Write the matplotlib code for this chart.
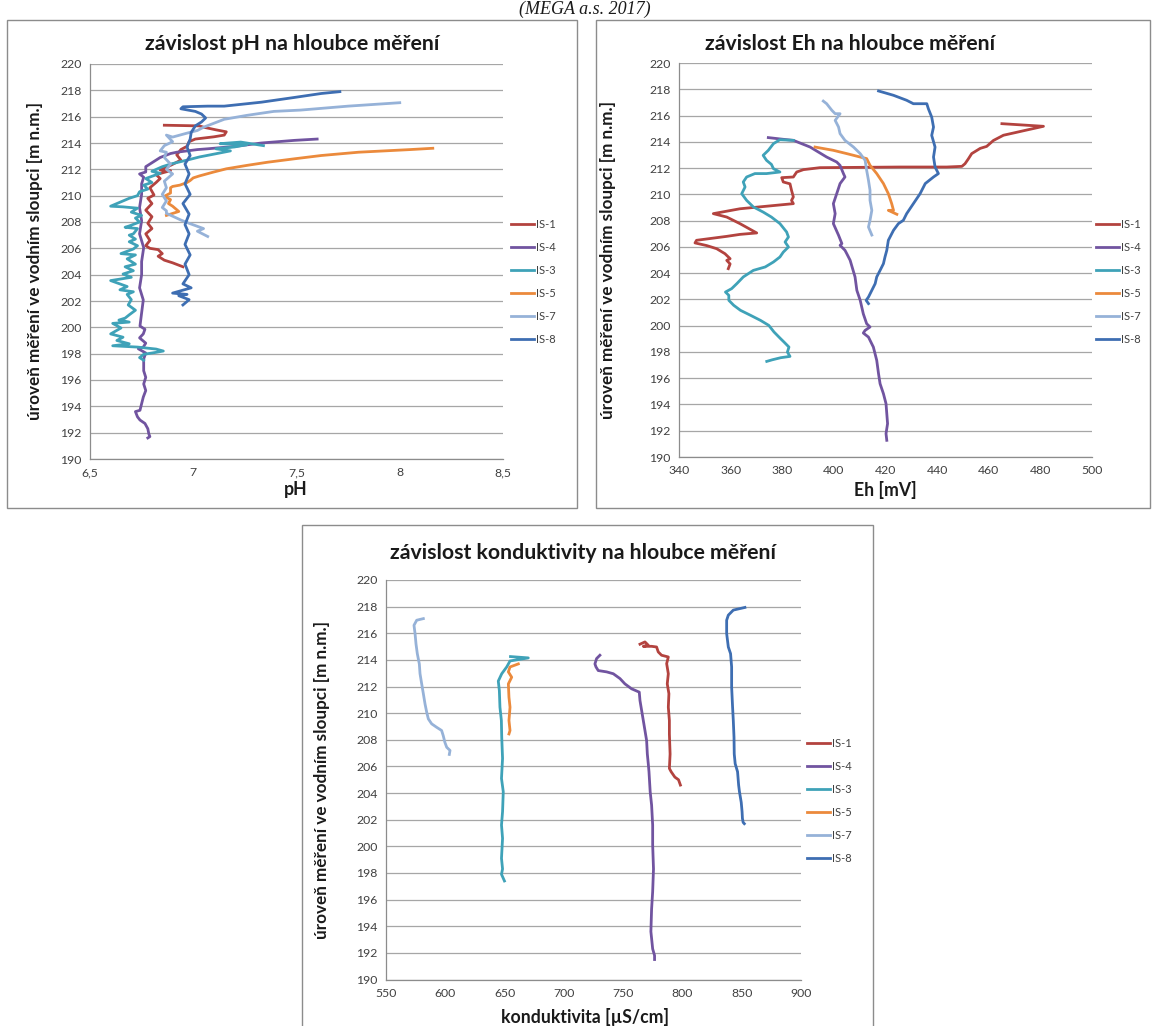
import matplotlib
matplotlib.use("Agg")
import matplotlib.pyplot as plt
from matplotlib.patches import Rectangle
from matplotlib.ticker import MultipleLocator, FuncFormatter

# ---- data: value, level [m n.m.] ----
SERIES = ["IS-1", "IS-4", "IS-3", "IS-5", "IS-7", "IS-8"]
COLORS = ["#B3433F", "#7154A0", "#3FA2B8", "#EB8A3C", "#96B2D8", "#3E6EB2"]

# pH
ph_is1_val = [6.86, 7.03, 7.05, 7.11, 7.16, 7.15, 7.10, 7.01, 6.98, 6.97, 6.94, 6.92, 6.94, 6.89, 6.84, 6.89,
              6.82, 6.84, 6.82, 6.79, 6.81, 6.78, 6.80, 6.77, 6.80, 6.78, 6.80, 6.77, 6.79, 6.77, 6.79, 6.83,
              6.85, 6.83, 6.86, 6.90, 6.95]
ph_is1_dep = [215.35, 215.3, 215.2, 215.0, 214.85, 214.6, 214.47, 214.3, 214.1, 213.75, 213.5, 213.1, 212.7,
              212.3, 211.95, 211.9, 211.6, 211.3, 211.0, 210.6, 210.05, 209.8, 209.4, 208.9, 208.4, 207.9,
              207.5, 207.1, 206.6, 206.2, 206.0, 205.9, 205.6, 205.4, 205.1, 204.9, 204.6]
ph_is4_val = [7.60, 7.49, 7.33, 7.20, 7.07, 7.02, 6.92, 6.89, 6.84, 6.79, 6.77, 6.77, 6.74, 6.76, 6.75, 6.75,
              6.74, 6.75, 6.74, 6.76, 6.75, 6.75, 6.74, 6.758, 6.75, 6.742, 6.766, 6.758, 6.74, 6.77, 6.758,
              6.734, 6.77, 6.76, 6.76, 6.76, 6.77, 6.76, 6.77, 6.758, 6.75, 6.742, 6.72, 6.73, 6.742, 6.766,
              6.78, 6.785, 6.79, 6.78]
ph_is4_dep = [214.3, 214.2, 214.0, 213.74, 213.56, 213.5, 213.3, 213.2, 212.9, 212.4, 212.2, 211.8, 211.65,
              211.4, 210.9, 210.1, 209.1, 208.1, 207.1, 206.05, 205.0, 204.0, 203.0, 202.08, 201.1, 200.1,
              199.85, 199.5, 199.2, 198.8, 198.5, 198.37, 198.05, 197.6, 197.2, 196.7, 196.2, 195.7, 195.2,
              194.7, 194.2, 193.7, 193.6, 193.2, 192.96, 192.7, 192.3, 191.9, 191.7, 191.6]
ph_is3_val = [7.34, 7.23, 7.13, 7.26, 7.20, 7.11, 7.18, 7.03, 6.97, 6.89, 6.85, 6.80, 6.84, 6.77, 6.80, 6.76,
              6.78, 6.74, 6.73, 6.69, 6.60, 6.66, 6.73, 6.70, 6.75, 6.72, 6.74, 6.69, 6.67, 6.73, 6.71, 6.69,
              6.72, 6.69, 6.73, 6.71, 6.65, 6.72, 6.68, 6.72, 6.67, 6.71, 6.66, 6.70, 6.60, 6.68, 6.645, 6.71,
              6.68, 6.70, 6.685, 6.72, 6.69, 6.67, 6.64, 6.69, 6.61, 6.65, 6.60, 6.66, 6.63, 6.69, 6.61, 6.73,
              6.82, 6.855, 6.82, 6.76, 6.74, 6.76]
ph_is3_dep = [213.8, 214.07, 213.95, 213.87, 213.7, 213.56, 213.4, 212.94, 212.7, 212.4, 212.2, 211.85, 211.7,
              211.3, 211.0, 210.8, 210.5, 210.3, 210.0, 209.8, 209.2, 209.15, 209.05, 208.75, 208.5, 208.3,
              208.0, 207.7, 207.6, 207.5, 207.1, 207.0, 206.7, 206.5, 206.2, 205.95, 205.6, 205.5, 205.2,
              204.8, 204.6, 204.3, 204.05, 203.8, 203.55, 203.1, 202.85, 202.7, 202.5, 202.1, 201.7, 201.3,
              200.95, 200.7, 200.55, 200.4, 200.3, 199.95, 199.5, 199.25, 199.0, 198.75, 198.6, 198.5,
              198.35, 198.2, 198.1, 197.95, 197.7, 197.5]
ph_is5_val = [8.16, 8.05, 7.80, 7.62, 7.49, 7.36, 7.26, 7.16, 7.10, 7.03, 7.00, 6.985, 6.97, 6.935, 6.90, 6.89,
              6.89, 6.86, 6.89, 6.88, 6.90, 6.93, 6.89, 6.87]
ph_is5_dep = [213.6, 213.5, 213.3, 213.05, 212.8, 212.54, 212.3, 212.04, 211.8, 211.5, 211.35, 211.15, 211.0,
              210.8, 210.7, 210.6, 210.2, 209.95, 209.7, 209.4, 209.2, 208.8, 208.6, 208.5]
ph_is7_val = [8.00, 7.75, 7.52, 7.39, 7.26, 7.15, 7.10, 7.05, 7.02, 6.97, 6.90, 6.87, 6.90, 6.86, 6.84, 6.87,
              6.86, 6.89, 6.87, 6.90, 6.86, 6.87, 6.85, 6.87, 6.85, 6.87, 6.87, 6.94, 6.98, 7.05, 7.02, 7.07]
ph_is7_dep = [217.06, 216.8, 216.5, 216.4, 216.1, 215.8, 215.5, 215.2, 214.95, 214.75, 214.45, 214.6, 214.1,
              213.8, 213.4, 213.3, 212.9, 212.4, 212.0, 211.65, 211.1, 210.6, 210.1, 209.6, 209.1, 208.85,
              208.66, 208.15, 207.9, 207.5, 207.3, 206.9]
ph_is8_val = [7.71, 7.62, 7.49, 7.33, 7.15, 7.07, 6.95, 6.94, 7.01, 7.04, 7.06, 7.04, 7.01, 6.99, 6.985, 6.97,
              6.985, 6.96, 6.98, 6.96, 6.985, 6.95, 6.98, 6.96, 6.98, 6.96, 6.985, 6.96, 6.98, 6.95, 6.99,
              6.90, 6.97, 6.93, 6.98, 6.95]
ph_is8_dep = [217.9, 217.76, 217.46, 217.1, 216.8, 216.8, 216.75, 216.6, 216.4, 216.2, 215.9, 215.6, 215.3,
              214.8, 214.3, 213.7, 213.05, 212.4, 211.65, 210.9, 210.1, 209.4, 208.6, 207.8, 207.1, 206.3,
              205.5, 204.8, 204.0, 203.3, 203.0, 202.6, 202.5, 202.4, 202.1, 201.7]

# Eh [mV]
eh_is1_val = [465.1, 481.2, 474.1, 469.6, 465.7, 461.8, 459.2, 456.7, 453.4, 452.1, 450.8, 449.6, 443.7, 425.7,
              394.6, 388.2, 385.6, 384.3, 379.8, 380.4, 383.0, 383.6, 384.3, 383.6, 384.3, 363.6, 353.3, 358.5,
              363.6, 370.1, 363.6, 358.5, 350.7, 346.8, 346.2, 350.7, 354.6, 357.8, 359.8, 358.5, 359.8, 359.1]
eh_is1_dep = [215.38, 215.18, 214.87, 214.67, 214.5, 214.1, 213.65, 213.5, 213.1, 212.7, 212.33, 212.13, 212.08,
              212.08, 212.03, 211.88, 211.7, 211.32, 211.27, 210.94, 210.8, 210.3, 209.8, 209.54, 209.29,
              208.9, 208.53, 208.27, 207.77, 207.06, 206.95, 206.8, 206.6, 206.5, 206.3, 206.1, 205.86,
              205.48, 205.1, 204.97, 204.7, 204.34]
eh_is4_val = [374.6, 380.4, 384.3, 390.8, 397.2, 401.1, 402.4, 403.7, 404.3, 402.4, 401.1, 399.8, 400.5, 399.8,
              401.8, 403.1, 402.4, 404.3, 405.0, 406.3, 408.2, 408.9, 410.2, 411.4, 412.7, 414.0, 412.1, 411.4,
              413.4, 415.3, 416.6, 417.3, 417.9, 419.2, 420.2, 420.5, 420.8, 420.2, 420.5]
eh_is4_dep = [214.32, 214.19, 214.11, 213.6, 212.84, 212.46, 212.2, 211.58, 211.32, 210.82, 210.05, 209.29,
              208.53, 207.77, 206.89, 206.25, 206.12, 205.74, 205.48, 204.98, 203.71, 202.69, 201.93, 200.9,
              200.15, 199.9, 199.64, 199.44, 199.13, 198.37, 197.36, 196.34, 195.58, 194.82, 194.06, 193.3,
              192.54, 191.78, 191.27]
eh_is3_val = [384.3, 379.1, 376.6, 374.6, 372.6, 373.9, 375.8, 376.6, 379.1, 373.9, 369.4, 366.2, 364.9, 365.6,
              364.3, 366.2, 368.8, 372.6, 375.8, 379.1, 381.7, 382.4, 381.1, 382.4, 380.4, 379.1, 376.6, 373.4,
              368.8, 364.9, 362.4, 360.4, 358.0, 359.3, 359.3, 361.2, 363.8, 367.7, 371.6, 374.8, 376.8, 378.1,
              379.4, 380.7, 382.6, 382.0, 383.0, 379.4, 376.1, 374.0]
eh_is3_dep = [214.11, 214.16, 213.86, 213.35, 212.97, 212.59, 212.28, 211.95, 211.7, 211.58, 211.58, 211.32,
              210.94, 210.56, 210.05, 209.54, 209.04, 208.65, 208.27, 207.77, 207.13, 206.75, 206.37, 205.99,
              205.6, 205.23, 204.85, 204.47, 204.21, 203.71, 203.2, 202.82, 202.56, 202.31, 201.93, 201.55,
              201.17, 200.79, 200.4, 200.02, 199.52, 199.26, 199.0, 198.75, 198.37, 197.99, 197.66, 197.56,
              197.4, 197.28]
eh_is5_val = [392.7, 399.8, 405.0, 410.2, 412.7, 414.0, 416.6, 419.2, 421.1, 422.4, 423.1, 421.1, 424.4]
eh_is5_dep = [213.6, 213.35, 213.1, 212.84, 212.72, 212.21, 211.58, 210.82, 210.05, 209.29, 208.78, 208.78, 208.48]
eh_is7_val = [395.9, 397.2, 399.2, 400.5, 402.4, 400.5, 401.8, 402.4, 404.3, 407.6, 410.2, 412.1, 412.7, 413.4,
              414.0, 414.0, 414.7, 414.0, 413.4, 414.7]
eh_is7_dep = [217.1, 216.9, 216.4, 216.14, 216.14, 215.63, 215.13, 214.62, 214.11, 213.6, 213.1, 212.59, 211.83,
              211.07, 210.31, 209.55, 208.78, 208.02, 207.51, 206.9]
eh_is8_val = [417.3, 423.1, 428.2, 430.8, 436.0, 436.6, 437.9, 438.6, 437.9, 439.2, 438.6, 439.2, 440.5, 438.6,
              435.4, 433.4, 430.8, 428.2, 426.9, 425.0, 423.1, 421.1, 420.5, 419.8, 419.2, 417.9, 416.6, 416.0,
              414.7, 413.4, 412.5, 413.4]
eh_is8_dep = [217.87, 217.54, 217.16, 216.9, 216.9, 216.52, 215.88, 215.12, 214.49, 213.6, 212.84, 212.08,
              211.58, 211.32, 210.82, 210.05, 209.29, 208.53, 208.02, 207.77, 207.26, 206.5, 205.74, 205.23,
              204.72, 204.21, 203.71, 203.2, 202.69, 202.18, 201.93, 201.68]

# konduktivita [uS/cm]
ec_is1_val = [764.2, 768.4, 771.2, 767.0, 774.0, 778.2, 779.6, 782.4, 788.1, 786.7, 788.1, 787.2, 788.6, 788.1,
              789.0, 789.0, 789.6, 789.0, 790.5, 793.6, 796.7, 798.3]
ec_is1_dep = [215.18, 215.35, 215.1, 215.02, 215.02, 214.97, 214.6, 214.35, 214.22, 213.72, 212.96, 212.2,
              211.46, 210.45, 209.45, 208.44, 206.93, 205.85, 205.6, 205.2, 205.0, 204.6]
ec_is4_val = [730.4, 727.6, 726.2, 727.1, 729.0, 736.1, 741.7, 747.3, 751.5, 757.1, 763.6, 764.2, 765.6, 767.0,
              768.4, 769.8, 770.4, 771.2, 771.8, 772.8, 774.0, 774.9, 774.9, 775.6, 774.9, 774.0, 773.4, 774.9,
              776.5, 776.5]
ec_is4_dep = [214.35, 214.1, 213.7, 213.47, 213.2, 213.1, 212.96, 212.6, 212.2, 211.83, 211.58, 210.95, 210.2,
              209.45, 208.7, 207.94, 206.93, 206.2, 205.6, 204.1, 203.1, 201.6, 200.1, 198.3, 196.6, 195.3,
              193.6, 192.3, 191.8, 191.5]
ec_is3_val = [655.0, 670.0, 654.6, 651.8, 647.6, 644.7, 645.6, 646.1, 647.3, 647.6, 648.3, 647.4, 648.9, 648.3,
              647.4, 648.3, 647.4, 648.3, 647.4, 648.9, 649.9]
ec_is3_dep = [214.25, 214.15, 213.92, 213.47, 212.96, 212.41, 211.7, 210.45, 209.45, 208.2, 206.6, 205.1, 204.1,
              202.6, 201.6, 200.6, 199.1, 198.3, 197.9, 197.6, 197.4]
ec_is5_val = [661.6, 654.6, 653.2, 656.0, 653.2, 653.7, 654.6, 653.7, 654.6, 653.7]
ec_is5_dep = [213.7, 213.47, 213.1, 212.7, 212.2, 211.2, 210.45, 209.45, 208.7, 208.44]
ec_is7_val = [581.5, 575.9, 573.6, 574.5, 575.3, 576.4, 578.1, 578.7, 580.1, 581.5, 582.9, 584.3, 585.7, 588.5,
              592.7, 596.9, 598.3, 599.7, 601.2, 604.0, 603.4]
ec_is7_dep = [217.1, 216.98, 216.6, 215.98, 215.2, 214.47, 213.7, 212.96, 212.2, 211.46, 210.7, 210.08, 209.57,
              209.2, 208.94, 208.7, 208.3, 207.8, 207.44, 207.2, 206.9]
ec_is8_val = [852.7, 842.9, 838.7, 837.3, 837.3, 838.7, 840.6, 841.5, 841.5, 842.3, 842.9, 843.5, 843.7, 844.5,
              846.5, 847.4, 848.1, 849.6, 850.3, 850.6, 851.2, 852.2]
ec_is8_dep = [217.94, 217.74, 217.36, 216.98, 215.98, 214.97, 214.47, 213.47, 211.96, 210.45, 209.45, 208.19,
              206.93, 206.2, 205.6, 204.6, 204.1, 203.3, 202.6, 202.1, 201.8, 201.7]

PH = [(ph_is1_val, ph_is1_dep), (ph_is4_val, ph_is4_dep), (ph_is3_val, ph_is3_dep),
      (ph_is5_val, ph_is5_dep), (ph_is7_val, ph_is7_dep), (ph_is8_val, ph_is8_dep)]
EH = [(eh_is1_val, eh_is1_dep), (eh_is4_val, eh_is4_dep), (eh_is3_val, eh_is3_dep),
      (eh_is5_val, eh_is5_dep), (eh_is7_val, eh_is7_dep), (eh_is8_val, eh_is8_dep)]
EC = [(ec_is1_val, ec_is1_dep), (ec_is4_val, ec_is4_dep), (ec_is3_val, ec_is3_dep),
      (ec_is5_val, ec_is5_dep), (ec_is7_val, ec_is7_dep), (ec_is8_val, ec_is8_dep)]

YLABEL = "úroveň měření ve vodním sloupci [m n.m.]"

# ---- layout (pixels of the 1157x1026 picture) ----
W, H = 1157, 1026
FONT = ["Lato", "DejaVu Sans"]
plt.rcParams["font.family"] = FONT

fig = plt.figure(figsize=(W / 100, H / 100), dpi=100)


def fx(px):
    return px / W


def fy(py):
    return 1 - py / H


def comma(v, pos):
    return ("%g" % v).replace(".", ",")


def panel(box, ax_box, data, xlim, xstep, title, title_xy, xlabel, xlabel_xy, ylabel_x, leg_xy):
    x0, y0, x1, y1 = box
    fig.patches.append(Rectangle((fx(x0), fy(y1)), fx(x1 - x0), (y1 - y0) / H, transform=fig.transFigure,
                                 fill=False, edgecolor="#8C8C8C", linewidth=1.0, zorder=0))
    l, t, r, b = ax_box
    ax = fig.add_axes([fx(l), fy(b), fx(r - l), (b - t) / H])
    for (vals, deps), name, col in zip(data, SERIES, COLORS):
        ax.plot(vals, deps, color=col, linewidth=2.0, label=name, solid_joinstyle="round")
    ax.set_xlim(*xlim)
    ax.set_ylim(190, 220)
    ax.xaxis.set_major_locator(MultipleLocator(xstep))
    ax.yaxis.set_major_locator(MultipleLocator(2))
    ax.xaxis.set_major_formatter(FuncFormatter(comma))
    ax.grid(axis="y", color="#A6A6A6", linewidth=0.9)
    ax.set_axisbelow(True)
    for s in ("top", "right"):
        ax.spines[s].set_visible(False)
    for s in ("left", "bottom"):
        ax.spines[s].set_color("#8C8C8C")
        ax.spines[s].set_linewidth(0.9)
    ax.tick_params(length=0, labelsize=8.8, colors="#404040", pad=6)
    fig.text(fx(title_xy[0]), fy(title_xy[1]), title, ha="center", va="center",
             fontsize=15.3, fontweight="bold", color="#1A1A1A")
    fig.text(fx(xlabel_xy[0]), fy(xlabel_xy[1]), xlabel, ha="center", va="center",
             fontsize=12.7, fontweight="bold", color="#1A1A1A")
    fig.text(fx(ylabel_x), fy((t + b) / 2), YLABEL, ha="center", va="center", rotation=90,
             fontsize=12.3, fontweight="bold", color="#1A1A1A")
    ax.legend(loc="upper left", bbox_to_anchor=(fx(leg_xy[0]), fy(leg_xy[1])), bbox_transform=fig.transFigure,
              frameon=False, fontsize=8, handlelength=2.1, handletextpad=0.15, labelspacing=1.08,
              borderpad=0, borderaxespad=0, labelcolor="#404040")
    return ax


panel((7, 20, 577, 508), (90, 64, 503, 459), PH, (6.5, 8.5), 0.5,
      "závislost pH na hloubce měření", (292, 44), "pH", (296, 490), 35, (511, 219))
panel((596, 20, 1150, 508), (679, 63, 1092, 457), EH, (340, 500), 20,
      "závislost Eh na hloubce měření", (850, 44), "Eh [mV]", (885, 490), 608, (1096, 219))
panel((302, 525, 873, 1040), (386, 580, 801, 979.5), EC, (550, 900), 50,
      "závislost konduktivity na hloubce měření", (583, 553), "konduktivita [µS/cm]", (585, 1017), 322,
      (807, 738))

# caption of the source page above the panels
fig.text(fx(585), fy(14), "(MEGA a.s. 2017)", ha="center", va="baseline", fontsize=13,
         style="italic", family=["Liberation Serif", "DejaVu Serif"], color="#1A1A1A")

fig.savefig("out.png", dpi=100)
